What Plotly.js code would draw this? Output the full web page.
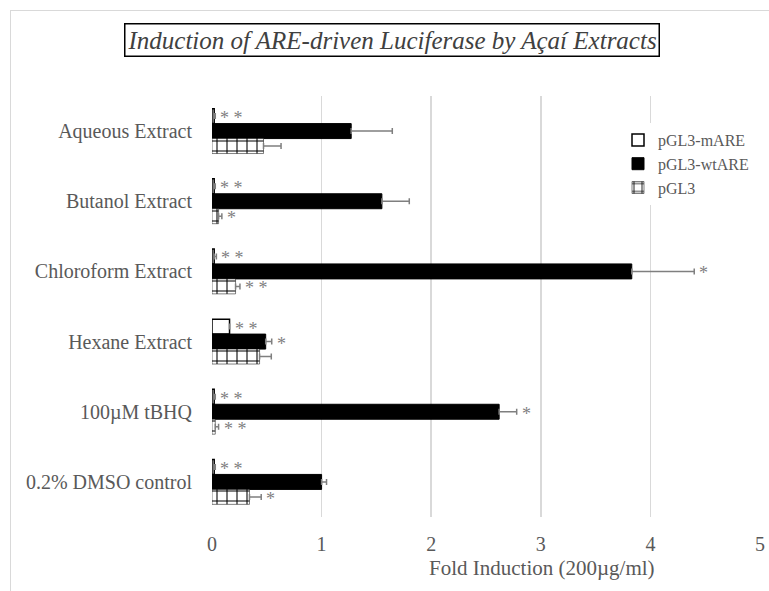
<!DOCTYPE html>
<html>
<head>
<meta charset="utf-8">
<script src="https://cdn.plot.ly/plotly-3.0.1.min.js"></script>
<style>
  html, body { margin: 0; padding: 0; background: #fff; }
  #frame { position: absolute; left: 10px; top: 10px; width: 800px; height: 620px;
           border-left: 1.5px solid #d9d9d9; border-top: 1.5px solid #d9d9d9; }
  #chart { position: absolute; left: 0; top: 0; width: 769px; height: 591px; }
</style>
</head>
<body>
<div id="frame"></div>
<div id="chart"></div>
<script>
// ---- data ----
const categories = ["Aqueous Extract", "Butanol Extract", "Chloroform Extract",
                    "Hexane Extract", "100\u00b5M tBHQ", "0.2% DMSO control"];
const seriesNames = ["pGL3-mARE", "pGL3-wtARE", "pGL3"];
const mARE   = [0.02, 0.02, 0.02, 0.16, 0.02, 0.02];
const mAREerr = [0.01, 0.01, 0.02, 0.00, 0.01, 0.01];
const wtARE  = [1.27, 1.55, 3.83, 0.49, 2.62, 1.00];
const wtAREerr = [0.375, 0.25, 0.57, 0.055, 0.16, 0.045];
const pGL3   = [0.47, 0.06, 0.215, 0.434, 0.03, 0.342];
const pGL3err = [0.16, 0.03, 0.04, 0.107, 0.03, 0.107];
const mAREstars  = ["**", "**", "**", "**", "**", "**"];
const wtAREstars = ["", "", "*", "*", "*", ""];
const pGL3stars  = ["", "*", "**", "", "**", "*"];
const xTicks = [0, 1, 2, 3, 4, 5];
const titleText = "Induction of ARE-driven Luciferase by A\u00e7a\u00ed Extracts";
const xTitleText = "Fold Induction (200\u00b5g/ml)";

// ---- layout helpers ----
const W = 769, H = 591, ML = 212, MR = 9, MT = 96, MB = 74;
const px2x = px => (px - ML) / (W - ML - MR);
const px2y = py => (H - MB - py) / (H - MT - MB);
const FONT = "Liberation Serif";
const TXT = "#595959";
const bargap = 0.36;
const slot = (1 - bargap) / 3;

const zeros = categories.map(() => 0);
const errStyle = arr => ({ type: "data", array: arr, arrayminus: zeros, symmetric: false,
                           visible: true, color: "#7f7f7f", thickness: 1.5, width: 3 });

const traces = [
  { type: "bar", orientation: "h", name: seriesNames[0], y: categories, x: mARE,
    marker: { color: "#ffffff", line: { color: "#000000", width: 1.5 } },
    error_x: errStyle(mAREerr) },
  { type: "bar", orientation: "h", name: seriesNames[1], y: categories, x: wtARE,
    marker: { color: "#000000", line: { color: "#000000", width: 1 } },
    error_x: errStyle(wtAREerr) },
  { type: "bar", orientation: "h", name: seriesNames[2], y: categories, x: pGL3,
    marker: { color: "#ffffff", line: { color: "#000000", width: 0.5 },
              pattern: { shape: "+", fgcolor: "#000000", bgcolor: "#ffffff", size: 10, solidity: 0.2 } },
    error_x: errStyle(pGL3err) }
];

const annotations = [];
const seriesVals = [mARE, wtARE, pGL3];
const seriesErr = [mAREerr, wtAREerr, pGL3err];
const seriesStars = [mAREstars, wtAREstars, pGL3stars];
for (let k = 0; k < 3; k++) {
  for (let i = 0; i < categories.length; i++) {
    const s = seriesStars[k][i];
    if (!s) continue;
    annotations.push({
      xref: "x", yref: "y", x: seriesVals[k][i] + seriesErr[k][i], y: i + (k - 1) * slot,
      text: s.split("").join(" "), showarrow: false, xanchor: "left", yanchor: "middle", xshift: 3, yshift: -2,
      font: { family: FONT, size: 18, color: "#7f7f7f" }
    });
  }
}
annotations.push({
  xref: "paper", yref: "paper", x: px2x(392), y: px2y(40), xanchor: "center", yanchor: "middle",
  text: titleText, showarrow: false,
  font: { family: FONT, size: 25, color: "#404040", style: "italic" },
  bordercolor: "#000000", borderwidth: 1.5, borderpad: 2, bgcolor: "#ffffff"
});
annotations.push({
  xref: "paper", yref: "paper", x: px2x(542), y: px2y(568), xanchor: "center", yanchor: "middle",
  text: xTitleText, showarrow: false, font: { family: FONT, size: 21, color: TXT }
});

const layout = {
  width: W, height: H,
  margin: { l: ML, r: MR, t: MT, b: MB, pad: 0 },
  paper_bgcolor: "rgba(0,0,0,0)", plot_bgcolor: "rgba(0,0,0,0)",
  barmode: "group", bargap: bargap, bargroupgap: 0,
  font: { family: FONT, color: TXT, size: 19 },
  xaxis: { range: [0, 5], tickvals: xTicks, showgrid: true, gridcolor: "#d9d9d9", gridwidth: 1.5,
           zeroline: false, showline: false, ticks: "outside", ticklen: 9,
           tickcolor: "rgba(0,0,0,0)", tickfont: { family: FONT, size: 20, color: TXT }, fixedrange: true },
  yaxis: { type: "category", autorange: "reversed", showgrid: false, zeroline: false, showline: false,
           ticks: "outside", ticklen: 15, tickcolor: "rgba(0,0,0,0)",
           tickfont: { family: FONT, size: 20, color: TXT } },
  showlegend: true,
  legend: { x: px2x(618), y: px2y(123), xanchor: "left", yanchor: "top", bgcolor: "#ffffff",
            font: { family: FONT, size: 16, color: TXT }, itemwidth: 30, tracegroupgap: 0,
            traceorder: "normal" },
  annotations: annotations
};

Plotly.newPlot("chart", traces, layout, { displayModeBar: false, staticPlot: true });
</script>
</body>
</html>
